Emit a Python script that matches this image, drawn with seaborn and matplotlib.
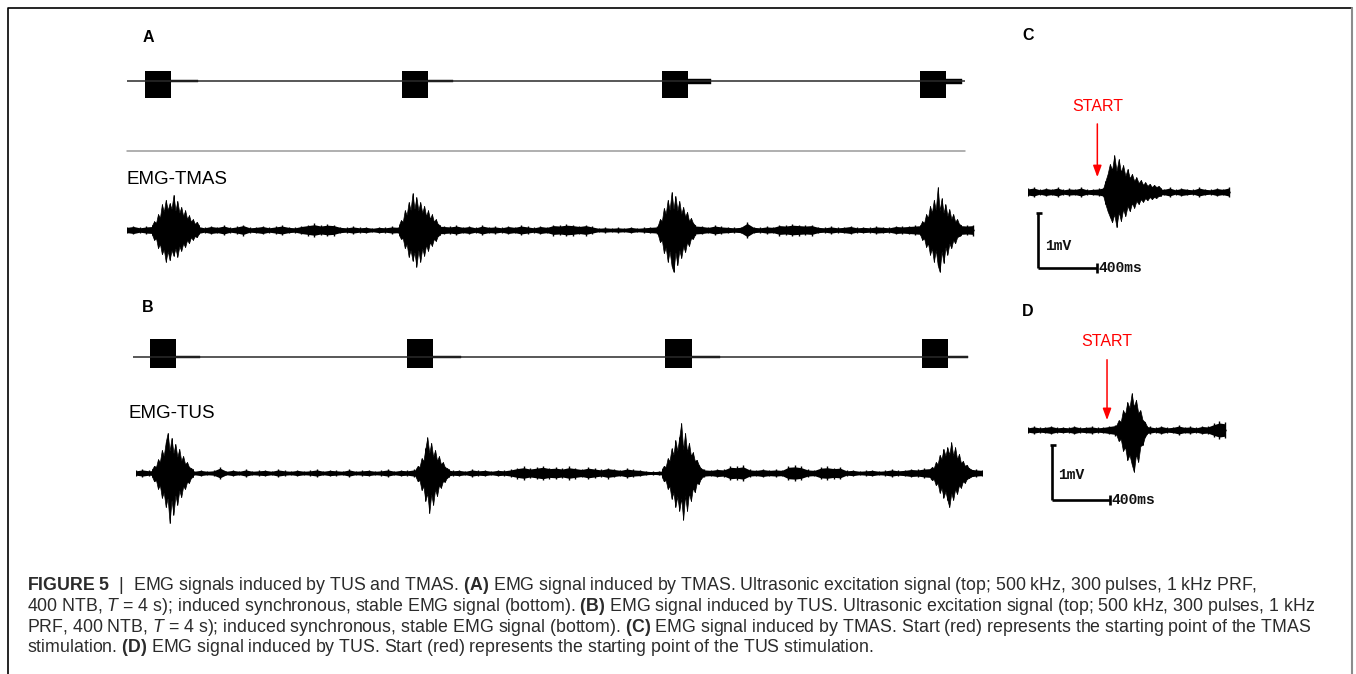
import numpy as np
import matplotlib
matplotlib.use("Agg")
import matplotlib.pyplot as plt
import seaborn as sns
from matplotlib import font_manager


# =====================================================
# DATA
# =====================================================

# ultrasonic excitation trains (top traces of A and B), time in s, amplitude a.u.
US_A_ONSET = [0.28, 4.26, 8.28, 12.28]
US_A_WIDTH = 0.40
US_A_HI, US_A_LO = 1.0, -1.7
US_A_TAIL = [0.42, 0.39, 0.36, 0.25]
US_A_TAIL_AMP = [0.12, 0.12, 0.25, 0.25]
US_A_DUR = 12.97

US_B_ONSET = [0.26, 4.24, 8.24, 12.21]
US_B_WIDTH = 0.41
US_B_HI, US_B_LO = 1.85, -1.1
US_B_TAIL = [0.36, 0.42, 0.43, 0.31]
US_B_TAIL_AMP = [0.10, 0.10, 0.12, 0.12]
US_B_DUR = 12.93

# EMG-TMAS: background envelope every 0.1 s (mV)
TMAS_BASE = [
    0.06, 0.08, 0.05, 0.07,
    0.08, 0.10, 0.12, 0.12, 0.12, 0.10, 0.09, 0.08,
    0.05, 0.08, 0.06, 0.09, 0.05, 0.07, 0.10, 0.05, 0.06, 0.08, 0.05, 0.07, 0.09, 0.06, 0.05, 0.08,
    0.10, 0.12, 0.09, 0.11, 0.10,
    0.06, 0.05, 0.07, 0.05, 0.06, 0.04, 0.06, 0.05, 0.07, 0.06,
    0.08, 0.10, 0.12, 0.12, 0.10, 0.09, 0.08,
    0.07, 0.09, 0.06, 0.08, 0.05, 0.09, 0.06, 0.07, 0.05, 0.08, 0.06, 0.09, 0.07, 0.05, 0.08, 0.06,
    0.10, 0.09, 0.11, 0.10, 0.08, 0.10, 0.07,
    0.04, 0.05, 0.04, 0.05, 0.04, 0.06, 0.04, 0.05, 0.06, 0.07,
    0.09, 0.11, 0.12, 0.11, 0.10, 0.09,
    0.08, 0.06, 0.09, 0.07, 0.06, 0.05, 0.06, 0.15, 0.06, 0.05, 0.07, 0.06,
    0.10, 0.09, 0.11, 0.10, 0.09, 0.10,
    0.06, 0.05, 0.07, 0.05, 0.06, 0.08, 0.05, 0.06, 0.05, 0.07, 0.06, 0.05, 0.08, 0.07, 0.08,
    0.09, 0.10, 0.12, 0.12, 0.11, 0.10, 0.09, 0.10,
    0.09, 0.10,
]
# EMG-TMAS bursts: onset (s), envelope every 0.03 s, up / down (mV)
TMAS_ONSET = [0.39, 4.21, 8.22, 12.28]
TMAS_UP = [
    [0.09, 0.16, 0.13, 0.29, 0.22, 0.47, 0.33, 0.55, 0.36, 0.49, 0.38, 0.64, 0.35,
     0.53, 0.31, 0.42, 0.25, 0.36, 0.20, 0.27, 0.15, 0.20, 0.11, 0.15, 0.09],
    [0.09, 0.18, 0.15, 0.36, 0.27, 0.51, 0.36, 0.67, 0.38, 0.60, 0.35, 0.51, 0.31,
     0.44, 0.25, 0.36, 0.20, 0.29, 0.15, 0.20, 0.11, 0.09],
    [0.09, 0.20, 0.16, 0.40, 0.29, 0.55, 0.36, 0.69, 0.38, 0.62, 0.35, 0.53, 0.29,
     0.42, 0.24, 0.33, 0.16, 0.22, 0.13, 0.09],
    [0.09, 0.16, 0.13, 0.29, 0.22, 0.44, 0.31, 0.55, 0.36, 0.78, 0.35, 0.58, 0.31,
     0.47, 0.25, 0.38, 0.20, 0.29, 0.15, 0.20, 0.11, 0.09],
]
TMAS_DN = [
    [0.09, 0.18, 0.15, 0.33, 0.25, 0.44, 0.35, 0.58, 0.38, 0.55, 0.36, 0.47, 0.33,
     0.49, 0.29, 0.38, 0.24, 0.31, 0.18, 0.24, 0.13, 0.18, 0.11, 0.13, 0.07],
    [0.09, 0.16, 0.15, 0.33, 0.25, 0.49, 0.36, 0.56, 0.40, 0.67, 0.36, 0.58, 0.33,
     0.47, 0.27, 0.38, 0.22, 0.29, 0.16, 0.20, 0.11, 0.09],
    [0.09, 0.22, 0.18, 0.42, 0.31, 0.58, 0.38, 0.65, 0.76, 0.40, 0.64, 0.36, 0.51,
     0.29, 0.40, 0.22, 0.29, 0.15, 0.16, 0.09],
    [0.09, 0.18, 0.15, 0.31, 0.24, 0.45, 0.33, 0.58, 0.36, 0.64, 0.76, 0.38, 0.60,
     0.31, 0.45, 0.24, 0.33, 0.18, 0.24, 0.13, 0.11, 0.09],
]

# EMG-TUS
TUS_BASE = [
    0.05, 0.07, 0.05, 0.06,
    0.10, 0.12, 0.12, 0.10, 0.08,
    0.04, 0.06, 0.04, 0.05, 0.11, 0.04, 0.06, 0.04, 0.07, 0.04, 0.05, 0.06, 0.04,
    0.07, 0.05, 0.04, 0.06, 0.04, 0.05, 0.07, 0.04, 0.06, 0.05, 0.04, 0.07, 0.04,
    0.05, 0.06, 0.04, 0.05, 0.07, 0.04, 0.06, 0.05, 0.07,
    0.09, 0.11, 0.12, 0.10, 0.08,
    0.05, 0.06, 0.04, 0.07, 0.05, 0.06, 0.04, 0.06, 0.05, 0.07,
    0.10, 0.12, 0.09, 0.11, 0.13, 0.10, 0.11, 0.09, 0.12, 0.10, 0.08, 0.11, 0.09,
    0.07, 0.10, 0.08, 0.06, 0.09, 0.07, 0.06,
    0.04, 0.03, 0.04, 0.05,
    0.10, 0.12, 0.12, 0.11, 0.09,
    0.07, 0.06, 0.08, 0.07,
    0.13, 0.12, 0.14,
    0.07, 0.06, 0.08, 0.06, 0.07, 0.06,
    0.13, 0.14, 0.12,
    0.07, 0.06,
    0.11, 0.12, 0.10, 0.11,
    0.05, 0.06, 0.04, 0.05, 0.06, 0.04, 0.05, 0.07, 0.05, 0.06, 0.08, 0.07,
    0.09,
    0.10, 0.11, 0.12, 0.12, 0.11, 0.10, 0.09,
    0.07, 0.06,
]
TUS_ONSET = [0.25, 4.33, 8.14, 12.29]
TUS_UP = [
    [0.07, 0.13, 0.11, 0.25, 0.20, 0.42, 0.31, 0.56, 0.73, 0.40, 0.64, 0.36, 0.53,
     0.29, 0.44, 0.22, 0.31, 0.16, 0.20, 0.11, 0.09, 0.07],
    [0.07, 0.13, 0.11, 0.27, 0.22, 0.45, 0.65, 0.36, 0.55, 0.29, 0.42, 0.22, 0.31,
     0.16, 0.20, 0.11, 0.09, 0.07],
    [0.07, 0.13, 0.11, 0.27, 0.22, 0.45, 0.33, 0.60, 0.40, 0.65, 0.91, 0.42, 0.73,
     0.38, 0.55, 0.31, 0.38, 0.22, 0.24, 0.15, 0.09, 0.07],
    [0.07, 0.11, 0.09, 0.20, 0.16, 0.33, 0.25, 0.44, 0.31, 0.47, 0.33, 0.56, 0.31,
     0.47, 0.25, 0.35, 0.18, 0.22, 0.13, 0.15, 0.09, 0.07],
]
TUS_DN = [
    [0.07, 0.15, 0.13, 0.29, 0.22, 0.45, 0.35, 0.62, 0.45, 0.91, 0.49, 0.76, 0.40,
     0.58, 0.31, 0.44, 0.24, 0.29, 0.16, 0.18, 0.09, 0.07],
    [0.07, 0.15, 0.13, 0.31, 0.24, 0.51, 0.36, 0.73, 0.38, 0.58, 0.29, 0.42, 0.22,
     0.27, 0.15, 0.16, 0.09, 0.07],
    [0.07, 0.15, 0.13, 0.29, 0.24, 0.47, 0.35, 0.62, 0.42, 0.69, 0.45, 0.85, 0.40,
     0.69, 0.36, 0.51, 0.27, 0.35, 0.18, 0.20, 0.11, 0.07],
    [0.07, 0.13, 0.11, 0.22, 0.18, 0.36, 0.27, 0.45, 0.33, 0.49, 0.62, 0.36, 0.49,
     0.29, 0.38, 0.22, 0.27, 0.15, 0.18, 0.11, 0.09, 0.07],
]

# C: single TMAS response, envelope every 0.04 s, burst every 0.015 s
C_BASE = [
    0.07, 0.09, 0.05, 0.08, 0.06, 0.09, 0.05, 0.07, 0.06, 0.09, 0.05, 0.06, 0.07,
    0.10, 0.12, 0.12, 0.12, 0.12, 0.11, 0.10, 0.10, 0.09, 0.08,
    0.06, 0.09, 0.05, 0.08, 0.06, 0.05, 0.09, 0.06, 0.05, 0.08, 0.06, 0.09,
]
C_ONSET = 0.51
C_UP = [0.07, 0.20, 0.33, 0.51, 0.40, 0.67, 0.38, 0.60, 0.36, 0.49, 0.29, 0.42, 0.25,
        0.33, 0.20, 0.27, 0.16, 0.22, 0.13, 0.18, 0.11, 0.15, 0.09, 0.13, 0.09, 0.11, 0.07]
C_DN = [0.07, 0.22, 0.35, 0.45, 0.55, 0.40, 0.64, 0.36, 0.53, 0.31, 0.44, 0.25, 0.35,
        0.20, 0.29, 0.16, 0.22, 0.13, 0.18, 0.11, 0.15, 0.09, 0.13, 0.09, 0.11, 0.07, 0.07]
C_START = 0.47

# D: single TUS response
D_BASE = [
    0.05, 0.07, 0.05, 0.06, 0.08, 0.05, 0.06, 0.05, 0.08, 0.05, 0.06, 0.07, 0.05, 0.06, 0.08,
    0.10, 0.12, 0.12, 0.12, 0.11, 0.09,
    0.07, 0.05, 0.08, 0.05, 0.06, 0.09, 0.06, 0.07, 0.05, 0.08, 0.07,
    0.12, 0.16, 0.14,
]
D_ONSET = 0.61
D_UP = [0.09, 0.18, 0.15, 0.36, 0.29, 0.51, 0.40, 0.67, 0.42, 0.55, 0.31, 0.36, 0.18, 0.15, 0.07]
D_DN = [0.09, 0.20, 0.16, 0.38, 0.31, 0.55, 0.45, 0.62, 0.76, 0.44, 0.58, 0.29, 0.27, 0.13, 0.07]
D_START = 0.545

SCALE_MV = 1.0     # vertical scale bar
SCALE_S = 0.400    # horizontal scale bar (400 ms)

CAPTION = [
    r"$\mathbf{FIGURE\ 5}$  |  EMG signals induced by TUS and TMAS. $\mathbf{(A)}$ EMG signal induced by TMAS. "
    r"Ultrasonic excitation signal (top; 500 kHz, 300 pulses, 1 kHz PRF,",
    r"400 NTB, $\mathit{T}$ = 4 s); induced synchronous, stable EMG signal (bottom). $\mathbf{(B)}$ EMG signal "
    r"induced by TUS. Ultrasonic excitation signal (top; 500 kHz, 300 pulses, 1 kHz",
    r"PRF, 400 NTB, $\mathit{T}$ = 4 s); induced synchronous, stable EMG signal (bottom). $\mathbf{(C)}$ EMG "
    r"signal induced by TMAS. Start (red) represents the starting point of the TMAS",
    r"stimulation. $\mathbf{(D)}$ EMG signal induced by TUS. Start (red) represents the starting point of "
    r"the TUS stimulation.",
]


# =====================================================
# STYLE / LAYOUT
# =====================================================

W, H = 1356, 674
sns.set_theme(style="white")
plt.rcParams["font.family"] = ["Liberation Sans", "DejaVu Sans"]

installed = {f.name for f in font_manager.fontManager.ttflist}
cap_font = "Liberation Sans Narrow" if "Liberation Sans Narrow" in installed else "Liberation Sans"
plt.rcParams["mathtext.fontset"] = "custom"
plt.rcParams["mathtext.rm"] = cap_font
plt.rcParams["mathtext.bf"] = cap_font + ":bold"
plt.rcParams["mathtext.it"] = cap_font + ":italic"

fig = plt.figure(figsize=(W / 100, H / 100), dpi=100)

# overlay in pixel coordinates for frame, labels and caption
ov = fig.add_axes([0, 0, 1, 1])
ov.set_xlim(0, W)
ov.set_ylim(H, 0)
ov.set_axis_off()

AB_PX_S = 64.6     # px per second, long traces
MV_PX = 55.0       # px per mV
US_PX = 10.0       # px per a.u. for the ultrasonic traces


def px_axes(x0, x1, yc, top, bottom, px_s, px_unit=MV_PX):
    """Axes placed in pixel space: x in s from x0, y zero at pixel row yc."""
    y0 = yc - top * px_unit
    y1 = yc + bottom * px_unit
    ax = fig.add_axes([x0 / W, 1 - y1 / H, (x1 - x0) / W, (y1 - y0) / H])
    ax.set_xlim(0, (x1 - x0) / px_s)
    ax.set_ylim(-bottom, top)
    ax.set_axis_off()
    return ax


def draw_us(ax, onsets, width, hi, lo, tails, tail_amp, dur):
    sns.lineplot(x=[0, dur], y=[0, 0], ax=ax, color="#2a2a2a", lw=1.1)
    ax.bar(onsets, hi - lo, width=width, bottom=lo, align="edge", color="black", lw=0)
    for on, tl, amp in zip(onsets, tails, tail_amp):
        ax.fill_between([on + width, on + width + tl], -amp, amp, color="black", lw=0.3)


def draw_emg(ax, step, base, onsets, bstep, ups, dns):
    base = np.asarray(base)
    t = np.arange(len(base)) * step
    ax.fill_between(t, -0.8 * base, 0.8 * base, color="black", lw=0)
    sns.lineplot(x=t, y=np.zeros_like(t), ax=ax, color="black", lw=1.8)
    ax.vlines(t, -base, base, color="black", lw=1.0)
    for on, up, dn in zip(onsets, ups, dns):
        up = np.asarray(up)
        dn = np.asarray(dn)
        tb = on + np.arange(len(up)) * bstep
        ax.fill_between(tb, -dn, up, color="black", lw=0.5)
        ax.vlines(tb, -dn, up, color="black", lw=0.7)


def scale_bar(ax, x0, ytop, mv_lab_dx, mv_lab_dy):
    ybot = ytop - SCALE_MV
    kw = dict(color="black", lw=1.9, solid_capstyle="butt")
    ax.plot([x0, x0], [ytop, ybot], **kw)
    ax.plot([x0, x0 + SCALE_S], [ybot, ybot], **kw)
    ax.plot([x0 - 0.012, x0 + 0.03], [ytop, ytop], **kw)
    ax.plot([x0 + SCALE_S, x0 + SCALE_S], [ybot - 0.09, ybot + 0.09], **kw)
    mono = dict(family="Liberation Mono", fontsize=10.5, fontweight="bold",
                va="center", ha="left", color="#111111")
    ax.text(x0 + mv_lab_dx, ytop - mv_lab_dy, "1mV", **mono)
    ax.text(x0 + SCALE_S + 0.012, ybot, "400ms", **mono)


def start_arrow(ax, t, y_tip, y_text):
    ax.annotate("START", xy=(t, y_tip), xytext=(t, y_text), ha="center", va="center",
                fontsize=11.5, color="red",
                arrowprops=dict(arrowstyle="-|>,head_length=0.6,head_width=0.22",
                                color="red", lw=1.1, shrinkA=5, shrinkB=0))


# ---- A: ultrasonic train + EMG-TMAS ----
ax_a1 = px_axes(127, 965, 81, 2.5, 2.5, AB_PX_S, US_PX)
draw_us(ax_a1, US_A_ONSET, US_A_WIDTH, US_A_HI, US_A_LO, US_A_TAIL, US_A_TAIL_AMP, US_A_DUR)

ax_a2 = px_axes(127, 975, 230, 1.0, 1.0, AB_PX_S)
draw_emg(ax_a2, 0.1, TMAS_BASE, TMAS_ONSET, 0.03, TMAS_UP, TMAS_DN)

# ---- B: ultrasonic train + EMG-TUS ----
ax_b1 = px_axes(133, 968, 357, 2.5, 2.5, AB_PX_S, US_PX)
draw_us(ax_b1, US_B_ONSET, US_B_WIDTH, US_B_HI, US_B_LO, US_B_TAIL, US_B_TAIL_AMP, US_B_DUR)

ax_b2 = px_axes(136, 983, 473, 1.0, 1.0, AB_PX_S)
draw_emg(ax_b2, 0.1, TUS_BASE, TUS_ONSET, 0.03, TUS_UP, TUS_DN)

# ---- C ----
ax_c = px_axes(1028, 1233, 192, 1.8, 1.6, 147.5)
draw_emg(ax_c, 0.04, C_BASE, [C_ONSET], 0.015, [C_UP], [C_DN])
scale_bar(ax_c, 0.068, -0.38, 0.047, 0.60)
start_arrow(ax_c, C_START, 0.27, 1.56)

# ---- D ----
ax_d = px_axes(1028, 1229, 430, 1.8, 1.6, 145.0)
draw_emg(ax_d, 0.04, D_BASE, [D_ONSET], 0.015, [D_UP], [D_DN])
scale_bar(ax_d, 0.166, -0.27, 0.041, 0.55)
start_arrow(ax_d, D_START, 0.18, 1.60)

# ---- frame, divider, labels ----
ov.plot([8, 8, 1352], [H, 8, 8], color="black", lw=1.2)
ov.plot([1352, 1352], [8, H], color="#8c8c8c", lw=1.5)
ov.plot([127, 965], [151, 151], color="#9a9a9a", lw=1.1)

lab = dict(fontsize=11.5, fontweight="bold", va="center", ha="left", color="black")
ov.text(143, 37, "A", **lab)
ov.text(142, 308, "B", **lab)
ov.text(1022, 35, "C", **lab)
ov.text(1022, 311, "D", **lab)
ov.text(127, 180, "EMG-TMAS", fontsize=13.5, va="center", ha="left", color="black")
ov.text(128, 413, "EMG-TUS", fontsize=13.5, va="center", ha="left", color="black")

# ---- caption, sized so the first line spans the text block ----
renderer = fig.canvas.get_renderer()
probe = ov.text(27, 590, CAPTION[0], fontsize=10, family=cap_font)
w0 = probe.get_window_extent(renderer=renderer).width
probe.remove()
cap_size = 10 * (1253 - 27) / w0
for line, yb in zip(CAPTION, [590.5, 611, 631.5, 652]):
    ov.text(27, yb, line, fontsize=cap_size, family=cap_font, va="baseline", ha="left",
            color="#2b2b2b")

fig.savefig("out.png", dpi=100)
